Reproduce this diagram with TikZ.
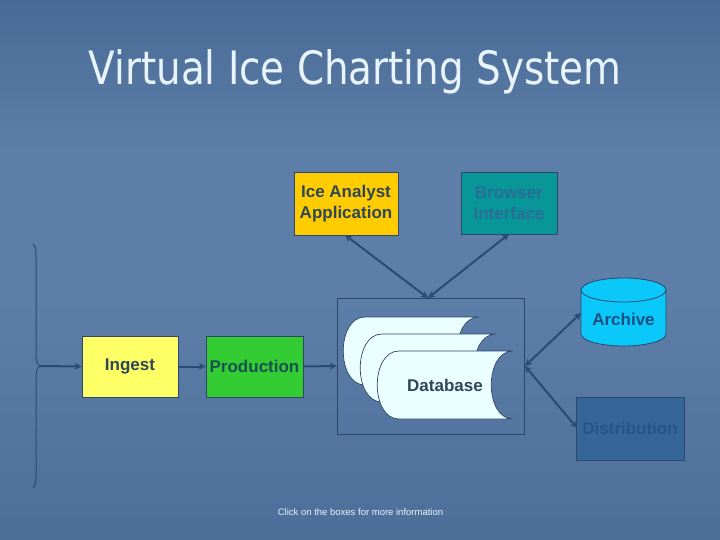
\documentclass[tikz,border=0pt]{standalone}
\usepackage{fontspec}
\setmainfont{Liberation Sans}
\newfontfamily\titlefont{DejaVu Sans}
\usetikzlibrary{arrows.meta}
\definecolor{bgtop}{RGB}{72,106,150}
\definecolor{bgmid}{RGB}{92,126,168}
\definecolor{bgbot}{RGB}{78,110,154}
\definecolor{conn}{RGB}{42,74,122}
\definecolor{boxline}{RGB}{45,70,105}
\definecolor{txtdark}{RGB}{45,70,88}
\definecolor{gold}{RGB}{255,204,0}
\definecolor{teal}{RGB}{8,150,152}
\definecolor{browsertxt}{RGB}{40,110,150}
\definecolor{ingestfill}{RGB}{255,255,102}
\definecolor{prodfill}{RGB}{51,204,51}
\definecolor{prodtxt}{RGB}{25,80,80}
\definecolor{archfill}{RGB}{10,200,250}
\definecolor{archtxt}{RGB}{25,80,130}
\definecolor{distfill}{RGB}{52,102,152}
\definecolor{disttxt}{RGB}{40,85,135}
\definecolor{dbfill}{RGB}{234,255,255}
\definecolor{titlecol}{RGB}{232,244,250}
\newcommand{\dbshape}[2]{%
  \draw[dbpath] ({#1+22},#2) -- ({#1+136},#2)
    .. controls ({#1+136-29},#2) and ({#1+136-29},{#2+68}) .. ({#1+136},{#2+68})
    -- ({#1+22},{#2+68})
    .. controls ({#1-7},{#2+68}) and ({#1-7},#2) .. ({#1+22},#2) -- cycle;}
\begin{document}
\begin{tikzpicture}[x=1pt,y=-1pt,
  box/.style={draw=boxline,line width=0.8pt,inner sep=0pt,font=\bfseries\fontsize{17}{21.5}\selectfont,align=center},
  dbpath/.style={draw=boxline,line width=0.7pt,fill=dbfill},
  link/.style={draw=conn,line width=2pt,-{Stealth[length=7pt,width=7pt]}},
  dlink/.style={draw=conn,line width=2pt,{Stealth[length=7pt,width=7pt]}-{Stealth[length=7pt,width=7pt]}}]
\useasboundingbox (0,0) rectangle (720,540);
\shade[top color=bgtop,bottom color=bgmid,middle color=bgmid] (0,0) rectangle (720,300);
\shade[top color=bgmid,bottom color=bgbot] (0,300) rectangle (720,540);

\node[text=titlecol,font=\titlefont\fontsize{46}{50}\selectfont,anchor=base,inner sep=0pt] (title) at (355,85) {\scalebox{0.845}[1]{Virtual Ice Charting System}};

\node[box,fill=gold,text=txtdark,minimum width=104pt,minimum height=63pt] (ice) at (346,203.5) {Ice Analyst\\Application};
\node[box,fill=teal,text=browsertxt,minimum width=96pt,minimum height=62pt] (browser) at (509,203) {Browser\\Interface};

\node[draw=boxline,line width=0.8pt,minimum width=187pt,minimum height=136pt,inner sep=0pt] (dbbox) at (430.5,366) {};
\dbshape{343}{317}
\dbshape{360}{334}
\dbshape{377}{351}
\node[font=\bfseries\fontsize{17}{19}\selectfont,text=txtdark] (db) at (445,385) {Database};

\node[box,fill=ingestfill,text=txtdark,minimum width=96pt,minimum height=61pt] (ingest) at (130,366.5) {Ingest};
\node[box,fill=prodfill,text=prodtxt,minimum width=97pt,minimum height=61pt] (prod) at (254.5,366.5) {Production};

% archive cylinder
\path[fill=archfill,draw=boxline,line width=0.8pt] (581,290) -- (581,334)
  arc[start angle=180,end angle=360,x radius=42.5pt,y radius=12pt] -- (666,290);
\draw[fill=archfill,draw=boxline,line width=0.8pt] (623.5,290) ellipse [x radius=42.5pt,y radius=12pt];
\node[font=\bfseries\fontsize{17}{19}\selectfont,text=archtxt] (arch) at (623.5,319) {Archive};
\node[box,fill=distfill,text=disttxt,minimum width=108pt,minimum height=63pt] (dist) at (630,428.5) {Distribution};

\node[text=titlecol,font=\fontsize{9.5}{11}\selectfont] (note) at (360.5,512) {Click on the boxes for more information};

% brace
\coordinate (btop) at (33,244);
\coordinate (bbot) at (33,488);
\coordinate (btip) at (40,366);
\draw[conn,line width=1pt] (btop) .. controls (36,247) and (36,250) .. (36,258) -- (36,356)
  .. controls (36,362) and (38,365) .. (btip)
  .. controls (38,367) and (36,370) .. (36,376) -- (36,474)
  .. controls (36,482) and (36,485) .. (bbot);

\draw[link] (btip) -- (ingest.west);
\draw[link] (ingest.east) -- (prod.west);
\draw[link] (prod.east) -- (dbbox.west);

\coordinate (dbtop) at (428,298);
\coordinate (dbright) at (525,366);
\coordinate (iceA) at (345,235);
\coordinate (brA) at (509,234);
\coordinate (archA) at (581,313);
\coordinate (distA) at (577,428);
\draw[dlink] (iceA) -- (dbtop);
\draw[dlink] (brA) -- (dbtop);
\draw[dlink] (dbright) -- (archA);
\draw[dlink] (dbright) -- (distA);
\end{tikzpicture}
\end{document}
